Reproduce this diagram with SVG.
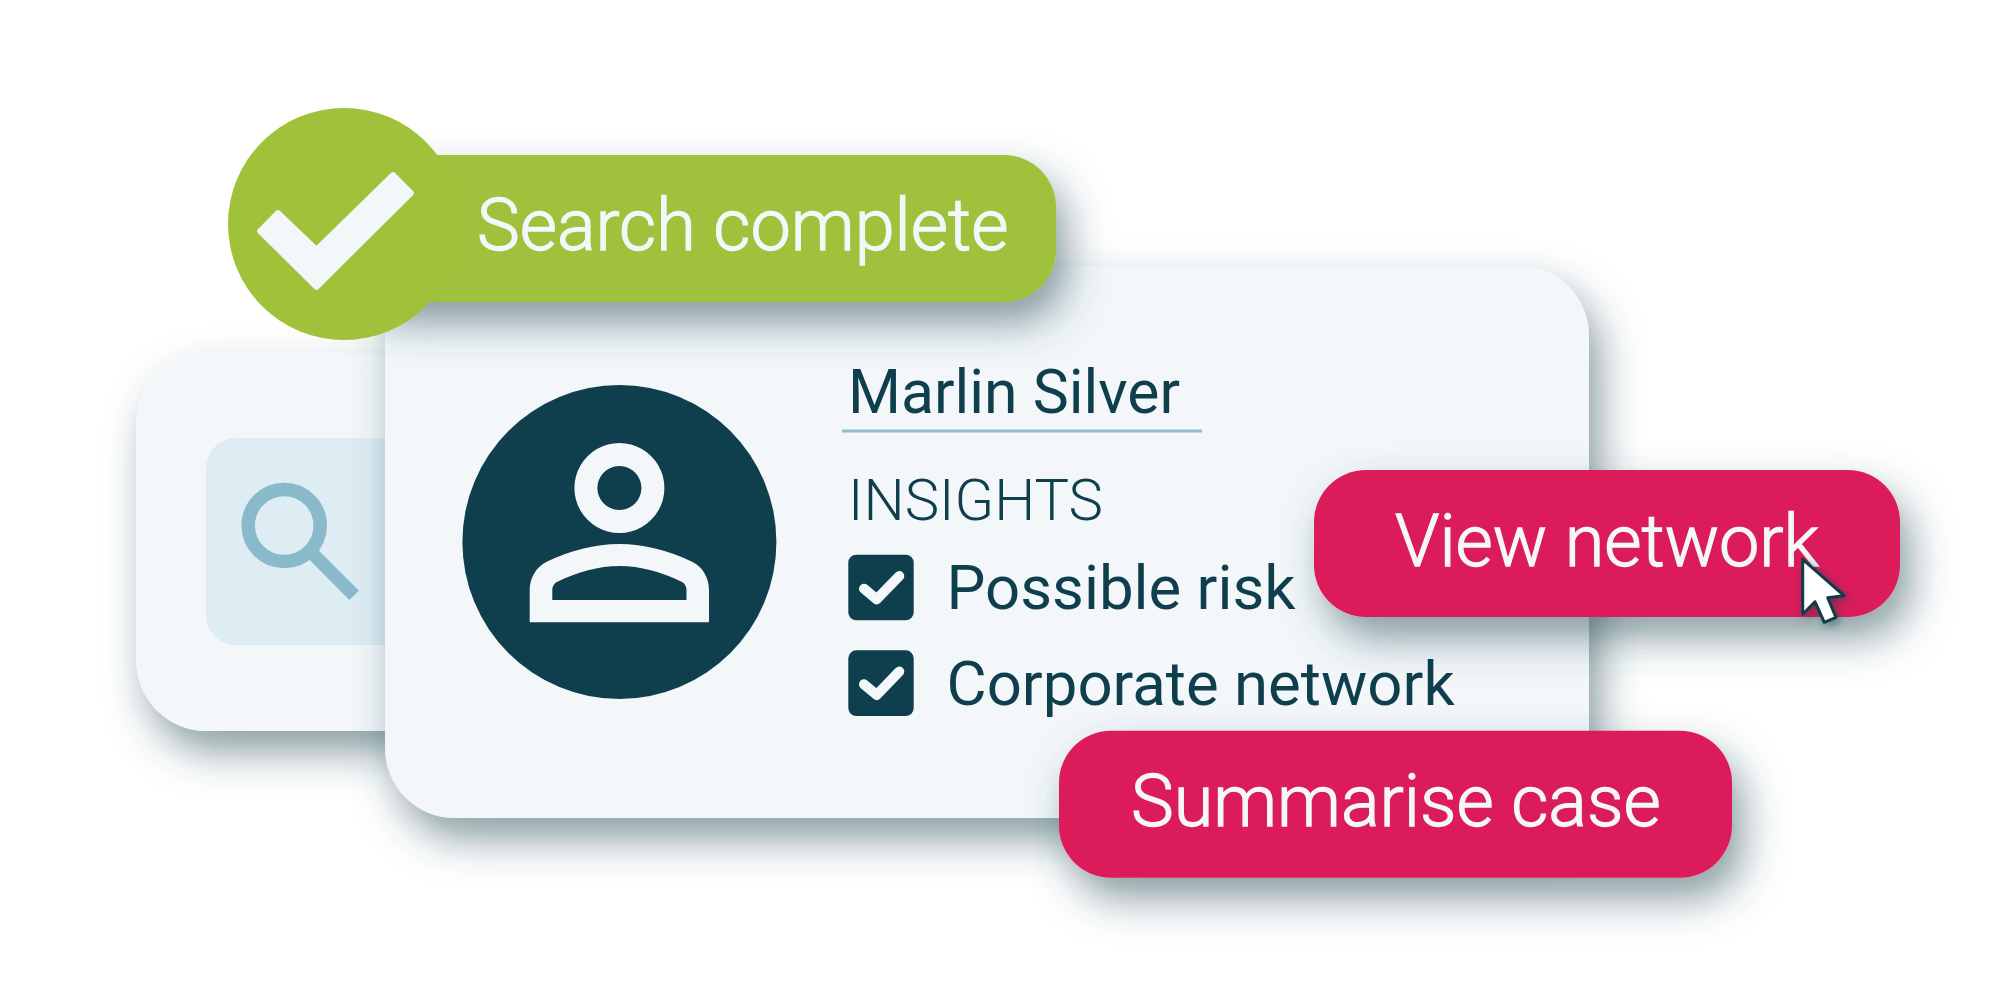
<svg xmlns="http://www.w3.org/2000/svg" width="2000" height="1000" viewBox="0 0 2000 1000">
<style>
text{font-family:Roboto,"Liberation Sans",sans-serif}
.card{fill:#F3F7FA;filter:url(#sh)}
.red{fill:#DC1D5A;filter:url(#sh)}
.dark{fill:#0F3E4C}
.lt{fill:#F3F7FA}
.t{font-size:61.700px;fill:#0F3E4C;font-weight:400}
.b{font-size:72px;fill:#F3F7FA;font-weight:300;stroke:#F3F7FA;stroke-width:1.300px}
.chk{fill:none;stroke:#F3F7FA;stroke-width:10;stroke-linecap:round;stroke-linejoin:round}
</style>
<defs>
<filter id="sh" x="-20%" y="-40%" width="140%" height="200%"><feDropShadow dx="11" dy="21" stdDeviation="20" flood-color="#1C4450" flood-opacity=".52"/></filter>
<filter id="csh" x="-60%" y="-60%" width="240%" height="240%"><feDropShadow dx="3" dy="3" stdDeviation="5" flood-color="#0F3E4C" flood-opacity=".5"/></filter>
</defs>
<rect width="2000" height="1000" fill="#FFFFFF"/>
<g id="search-card">
<rect class="card" x="136.500" y="353" width="500" height="378" rx="70"/>
<rect x="206" y="438" width="300" height="207" rx="30" fill="#DEECF3"/>
<circle cx="284.200" cy="525.500" r="36" fill="none" stroke="#8ABACA" stroke-width="13.500"/>
<path d="M318.300 550L359 590.700L349.300 600L309 559.300Z" fill="#8ABACA"/>
</g>
<g id="profile-card">
<rect class="card" x="385" y="266" width="1204" height="552" rx="70"/>
<circle class="dark" cx="619.400" cy="542" r="157"/>
<path class="lt" fill-rule="evenodd" d="M619.400 443a45 45 0 1 0 .01 0ZM619.400 466a22 22 0 1 1-.01 0ZM529.700 622.300V590C529.700 578 536 567 546.700 561.700C570 550.500 595 544 619.400 544C644 544 669 550.500 692.100 561.700C703 567 709 578 709 590V622.300ZM552.300 600H686.500V590C686.500 586 684.500 583 681.500 581.700C662 572 640 566 619.400 566C599 566 577 572 557.500 581.700C554.500 583 552.300 586 552.300 590Z"/>
<text class="t" x="848" y="412.700" style="font-size:60.700px">Marlin Silver</text>
<rect x="842" y="429.500" width="360" height="3" fill="#92BECD"/>
<text class="t" x="848" y="520" style="font-size:58px;font-weight:300">INSIGHTS</text>
<g id="check-1">
<rect class="dark" x="848.300" y="554.700" width="65.400" height="65.600" rx="8"/>
<path class="chk" d="M864 588.700L876.700 599.300L899.300 576"/>
<text class="t" x="946.500" y="608.700">Possible risk</text>
</g>
<g id="check-2">
<rect class="dark" x="848.300" y="650.300" width="65.400" height="65.700" rx="8"/>
<path class="chk" d="M864 684.300L876.700 694.900L899.300 671.600"/>
<text class="t" x="946.500" y="704.700">Corporate network</text>
</g>
</g>
<g id="search-complete">
<rect x="344" y="155" width="712" height="147" rx="52" fill="#A0C13A" filter="url(#sh)"/>
<circle cx="344" cy="224" r="116" fill="#A0C13A"/>
<path class="lt" stroke="#F3F7FA" stroke-width="6" stroke-linejoin="round" d="M278 213.200L316.500 250L393 175.200L410.800 193L316.500 286.800L260.200 231Z"/>
<text class="b" x="477" y="250">Search complete</text>
</g>
<g id="view-network">
<rect class="red" x="1314" y="470" width="586" height="147" rx="52"/>
<text class="b" x="1395" y="566">View network</text>
<path d="M1802.700 559.300L1844 595.700L1827.700 597.700L1836 617.300L1824.300 622.300L1815 601.700L1802.700 614.300Z" fill="#FFFFFF" stroke="#0F3E4C" stroke-width="3" stroke-linejoin="round" filter="url(#csh)"/>
</g>
<g id="summarise-case">
<rect class="red" x="1059" y="730.700" width="673" height="147" rx="52"/>
<text class="b" x="1131" y="826">Summarise case</text>
</g>
</svg>
